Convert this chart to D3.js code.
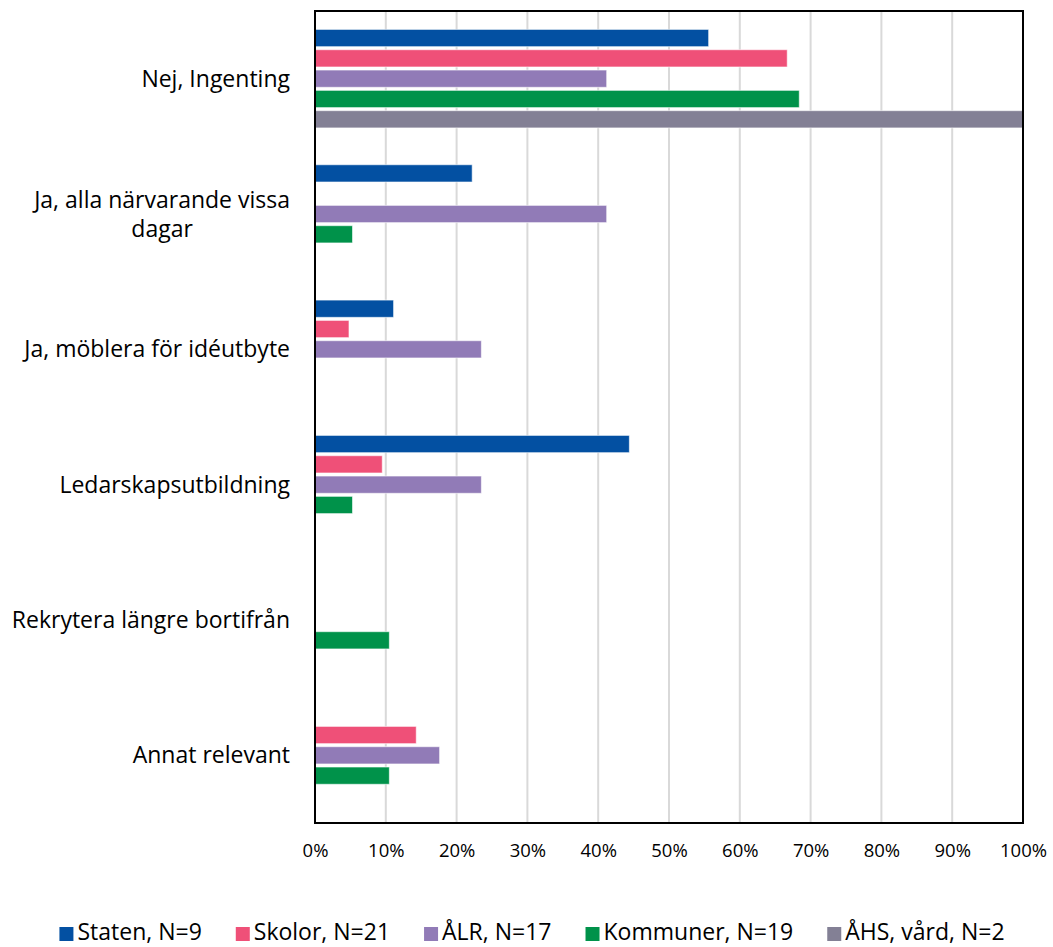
<!DOCTYPE html>
<html>
<head>
<meta charset="utf-8">
<script src="https://cdn.jsdelivr.net/npm/d3@7"></script>
<style>
  html, body { margin: 0; padding: 0; background: #fff; }
  svg { display: block; font-family: "Open Sans", sans-serif; }
</style>
</head>
<body>
<div id="chart"></div>
<script>
// categories, top to bottom
const categories = [
  'Nej, Ingenting',
  'Ja, alla närvarande vissa dagar',
  'Ja, möblera för idéutbyte',
  'Ledarskapsutbildning',
  'Rekrytera längre bortifrån',
  'Annat relevant'
]

const seriesNames = ['Staten, N=9', 'Skolor, N=21', 'ÅLR, N=17', 'Kommuner, N=19', 'ÅHS, vård, N=2']
const seriesColors = ['#0350a2', '#ef5078', '#917bb7', '#00924a', '#838095']

// share per category (0 = no bar)
const staten   = [0.556, 0.222, 0.111, 0.444, 0, 0]
const skolor   = [0.667, 0, 0.048, 0.095, 0, 0.143]
const alr      = [0.412, 0.412, 0.235, 0.235, 0, 0.176]
const kommuner = [0.684, 0.053, 0, 0.053, 0.105, 0.105]
const ahs      = [1.0, 0, 0, 0, 0, 0]

const seriesValues = [staten, skolor, alr, kommuner, ahs]
const tickValues = [0, 0.1, 0.2, 0.3, 0.4, 0.5, 0.6, 0.7, 0.8, 0.9, 1.0]

const width = 1053, height = 947
const margin = {top: 11, right: 30, bottom: 124, left: 315}
const plotW = width - margin.left - margin.right
const plotH = height - margin.top - margin.bottom
const labelFont = 23

const svg = d3.select('#chart').append('svg')
  .attr('width', width)
  .attr('height', height)

const g = svg.append('g').attr('transform', `translate(${margin.left},${margin.top})`)

const x = d3.scaleLinear().domain([0, 1]).range([0, plotW])
const y0 = d3.scaleBand().domain(categories).range([0, plotH])
  .paddingInner(0.272).paddingOuter(0.136)
const y1 = d3.scaleBand().domain(d3.range(seriesNames.length)).range([0, y0.bandwidth()])
  .paddingInner(0.15)

// gridlines
g.selectAll('.grid').data(tickValues.slice(1, -1))
  .enter().append('line')
  .attr('x1', (d) => x(d)).attr('x2', (d) => x(d))
  .attr('y1', 0).attr('y2', plotH)
  .attr('stroke', '#d9d9d9')
  .attr('stroke-width', 2)

// bars
const rows = []
categories.forEach((c, ci) => {
  seriesValues.forEach((vals, si) => {
    if (vals[ci] > 0) rows.push({cat: c, s: si, v: vals[ci]})
  })
})

g.selectAll('.bar').data(rows)
  .enter().append('rect')
  .attr('class', 'bar')
  .attr('x', 0)
  .attr('y', (d) => y0(d.cat) + y1(d.s))
  .attr('width', (d) => x(d.v))
  .attr('height', y1.bandwidth())
  .attr('fill', (d) => seriesColors[d.s])
  .attr('stroke', '#fff')
  .attr('stroke-opacity', 0.6)
  .attr('stroke-width', 1)

// plot border
g.append('rect')
  .attr('x', 0).attr('y', 0)
  .attr('width', plotW).attr('height', plotH)
  .attr('fill', 'none')
  .attr('stroke', '#000')
  .attr('stroke-width', 2)

// x axis labels
const xAxis = d3.axisBottom(x).tickValues(tickValues).tickFormat(d3.format('.0%')).tickSize(0).tickPadding(21)
const xa = g.append('g').attr('transform', `translate(0,${plotH})`).call(xAxis)
xa.select('.domain').remove()
xa.selectAll('text').attr('font-size', 18.5).attr('fill', '#000').attr('font-family', '"Open Sans", sans-serif')

// category labels (wrapped)
const maxLabelW = 285
const labels = g.append('g')
categories.forEach((c) => {
  const t = labels.append('text')
    .attr('text-anchor', 'middle')
    .attr('font-size', labelFont)
    .attr('fill', '#000')
  // wrap words
  const words = c.split(' ')
  const lines = []
  let line = []
  words.forEach((w) => {
    line.push(w)
    t.text(line.join(' '))
    if (t.node().getComputedTextLength() > maxLabelW && line.length > 1) {
      line.pop()
      lines.push(line.join(' '))
      line = [w]
    }
  })
  lines.push(line.join(' '))
  t.text(null)
  const lh = 29
  const cy = y0(c) + y0.bandwidth() / 2
  const startY = cy - (lines.length - 1) * lh / 2
  const tmp = labels.append('text').attr('font-size', labelFont)
  const widths = lines.map((l) => { tmp.text(l); return tmp.node().getComputedTextLength() })
  tmp.remove()
  const blockW = d3.max(widths)
  const centerX = -25 - blockW / 2
  lines.forEach((l, i) => {
    t.append('tspan')
      .attr('x', centerX)
      .attr('y', startY + i * lh)
      .attr('dy', '0.35em')
      .text(l)
  })
})

// legend
const legend = svg.append('g')
const items = []
seriesNames.forEach((n, i) => {
  const it = legend.append('g')
  it.append('rect').attr('width', 14).attr('height', 14).attr('y', -5).attr('fill', seriesColors[i])
  const tx = it.append('text').attr('x', 18).attr('dy', '0.35em').attr('font-size', labelFont).attr('fill', '#000').text(n)
  items.push({g: it, w: 18 + tx.node().getComputedTextLength()})
})
const gap = 34
const totalW = d3.sum(items, (d) => d.w) + gap * (items.length - 1)
let lx = 532 - totalW / 2
items.forEach((d) => {
  d.g.attr('transform', `translate(${lx},932)`)
  lx += d.w + gap
})
</script>
</body>
</html>
